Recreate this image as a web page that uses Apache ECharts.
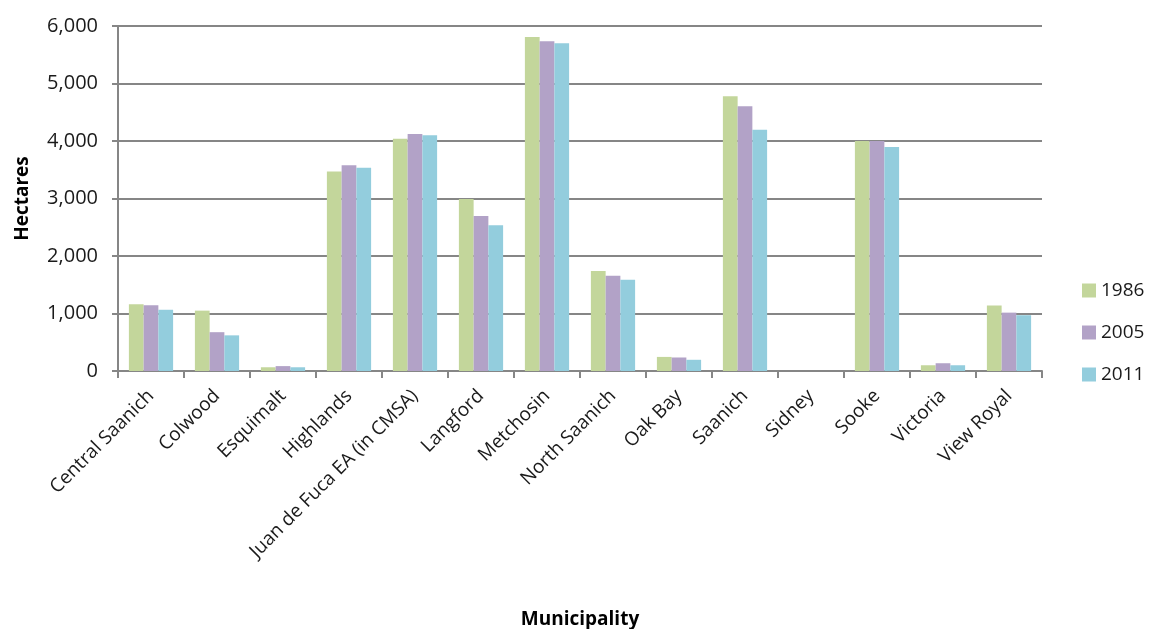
<!DOCTYPE html>
<html>
<head>
<meta charset="utf-8">
<script src="https://cdn.jsdelivr.net/npm/echarts@6/dist/echarts.min.js"></script>
<style>
  html, body { margin: 0; padding: 0; background: #fff; }
  #chart { width: 1151px; height: 629px; }
</style>
</head>
<body>
<div id="chart"></div>
<script>
var municipalities = ['Central Saanich', 'Colwood', 'Esquimalt', 'Highlands', 'Juan de Fuca EA (in CMSA)',
  'Langford', 'Metchosin', 'North Saanich', 'Oak Bay', 'Saanich', 'Sidney', 'Sooke', 'Victoria', 'View Royal']
var ha1986 = [1160, 1050, 65, 3470, 4040, 2990, 5810, 1740, 245, 4780, 0, 4000, 100, 1140]
var ha2005 = [1145, 675, 85, 3580, 4120, 2695, 5735, 1655, 235, 4605, 0, 4000, 135, 1015]
var ha2011 = [1065, 620, 65, 3535, 4100, 2535, 5700, 1585, 195, 4195, 0, 3895, 100, 970]
var years = ['1986', '2005', '2011']
var colors = ['#c3d69b', '#b2a2c7', '#93cddd']

var font = '"Open Sans", "Noto Sans", sans-serif'
var chart = echarts.init(document.getElementById('chart'))

function bar(name, data, color) {
  return {
    name: name,
    type: 'bar',
    data: data,
    barGap: '0%',
    barCategoryGap: '33%',
    itemStyle: { color: color },
    animation: false
  }
}

chart.setOption({
  animation: false,
  textStyle: { fontFamily: font },
  grid: { left: 118, right: 109, top: 26, bottom: 258, outerBoundsMode: 'none', containLabel: false },
  legend: {
    orient: 'vertical',
    left: 1082,
    top: 281,
    padding: 0,
    itemWidth: 14,
    itemHeight: 14,
    itemGap: 23,
    icon: 'rect',
    textStyle: { fontSize: 19, color: '#1a1a1a', fontFamily: font },
    data: years
  },
  xAxis: {
    type: 'category',
    data: municipalities,
    name: 'Municipality',
    nameLocation: 'middle',
    nameGap: 239,
    nameTextStyle: { fontSize: 19, fontWeight: 'bold', color: '#000' },
    axisLine: { lineStyle: { color: '#868686', width: 2 } },
    axisTick: { show: true, length: 7, lineStyle: { color: '#868686', width: 2 } },
    axisLabel: { rotate: 45, fontSize: 19, color: '#1a1a1a', margin: 22, interval: 0 }
  },
  yAxis: {
    type: 'value',
    min: 0,
    max: 6000,
    interval: 1000,
    name: 'Hectares',
    nameLocation: 'middle',
    nameGap: 86,
    nameTextStyle: { fontSize: 19, fontWeight: 'bold', color: '#000' },
    axisLine: { show: true, lineStyle: { color: '#868686', width: 2 } },
    axisTick: { show: true, inside: false, length: 6, lineStyle: { color: '#868686', width: 2 } },
    splitLine: { lineStyle: { color: '#868686', width: 2 } },
    axisLabel: {
      fontSize: 20, color: '#1a1a1a', margin: 20,
      formatter: function (v) { return v.toLocaleString('en-US') }
    }
  },
  series: [
    bar(years[0], ha1986, colors[0]),
    bar(years[1], ha2005, colors[1]),
    bar(years[2], ha2011, colors[2])
  ]
})
</script>
</body>
</html>
